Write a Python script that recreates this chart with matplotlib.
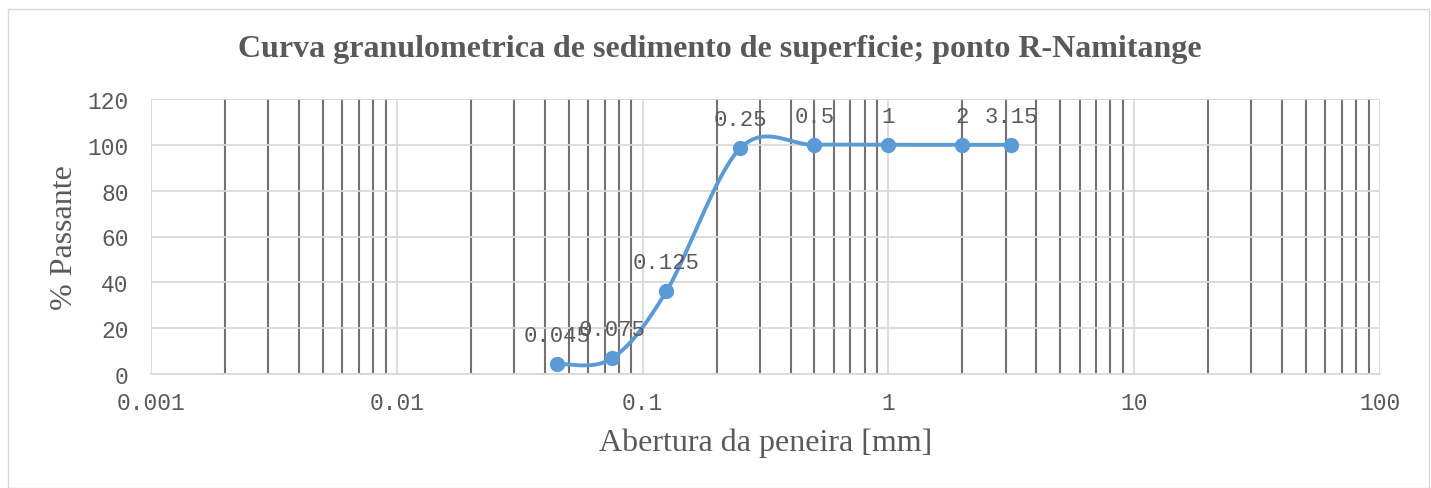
import numpy as np
import matplotlib
matplotlib.use("Agg")
import matplotlib.pyplot as plt
from matplotlib.patches import Rectangle

# sieve openings [mm] and % passing
abertura = [0.045, 0.075, 0.125, 0.25, 0.5, 1, 2, 3.15]
passante = [4.4, 6.8, 36.1, 98.6, 100, 100, 100, 100]
rotulos = ["0.045", "0.075", "0.125", "0.25", "0.5", "1", "2", "3.15"]

titulo = "Curva granulometrica de sedimento de superficie; ponto R-Namitange"
xlabel = "Abertura da peneira [mm]"
ylabel = "% Passante"

mono = "Liberation Mono"
serif = "Liberation Serif"
azul = "#5B9BD5"


def suave(xs, ys, n=40):
    # Excel-like smoothed line: Catmull-Rom bezier in log-x space
    px = np.log10(np.array(xs, dtype=float))
    py = np.array(ys, dtype=float)
    P = np.column_stack([px, py])
    out = []
    for i in range(len(P) - 1):
        p0 = P[i - 1] if i > 0 else P[i]
        p1 = P[i]
        p2 = P[i + 1]
        p3 = P[i + 2] if i + 2 < len(P) else P[i + 1]
        c1 = p1 + (p2 - p0) / 6.0
        c2 = p2 - (p3 - p1) / 6.0
        t = np.linspace(0, 1, n)[:, None]
        seg = ((1 - t) ** 3) * p1 + 3 * ((1 - t) ** 2) * t * c1 + 3 * (1 - t) * t ** 2 * c2 + t ** 3 * p2
        out.append(seg)
    out = np.vstack(out)
    return 10 ** out[:, 0], out[:, 1]


fig = plt.figure(figsize=(14.31, 4.89), dpi=100)
fig.patches.append(Rectangle((8 / 1431, 0), 1421 / 1431, 479 / 489, transform=fig.transFigure,
                             fill=False, edgecolor="#d9d9d9", linewidth=1))
ax = fig.add_axes([151 / 1431, 1 - 375 / 489, (1380 - 151) / 1431, 275 / 489])

ax.set_xscale("log")
ax.set_xlim(0.001, 100)
ax.set_ylim(0, 120)
ax.set_yticks(np.arange(0, 121, 20))
ax.set_xticks([0.001, 0.01, 0.1, 1, 10, 100])
ax.set_xticklabels(["0.001", "0.01", "0.1", "1", "10", "100"])
ax.xaxis.set_minor_locator(matplotlib.ticker.LogLocator(base=10, subs=np.arange(2, 10)))
ax.xaxis.set_minor_formatter(matplotlib.ticker.NullFormatter())

ax.grid(True, which="major", axis="both", color="#d9d9d9", linewidth=1.3)
ax.grid(True, which="minor", axis="x", color="#767171", linewidth=1.5)
ax.set_axisbelow(True)
for s in ["top", "right", "left"]:
    ax.spines[s].set_visible(False)
ax.spines["bottom"].set_color("#d9d9d9")
ax.spines["bottom"].set_linewidth(1.3)
ax.tick_params(which="both", length=0)
ax.tick_params(axis="both", labelsize=16.5, labelcolor="#595959")
ax.tick_params(axis="x", pad=12)
ax.tick_params(axis="y", pad=16)
for lab in ax.get_xticklabels() + ax.get_yticklabels():
    lab.set_fontfamily(mono)

xs, ys = suave(abertura, passante)
ax.plot(xs, ys, color=azul, linewidth=2.8, solid_capstyle="round", zorder=3, clip_on=False)
ax.plot(abertura, passante, "o", color=azul, markersize=10, zorder=4, clip_on=False)

for x, y, r in zip(abertura, passante, rotulos):
    ax.annotate(r, (x, y), xytext=(0, 13), textcoords="offset points", ha="center", va="bottom",
                fontsize=16, fontfamily=mono, color="#595959", zorder=5)

ax.set_xlabel(xlabel, fontsize=23, fontfamily=serif, color="#595959", labelpad=10)
ax.set_ylabel(ylabel, fontsize=23, fontfamily=serif, color="#595959", labelpad=6)
fig.text(720 / 1431, 1 - 50 / 489, titulo, ha="center", va="center", fontsize=23,
         fontfamily=serif, fontweight="bold", color="#595959")

fig.savefig("out.png", dpi=100)
